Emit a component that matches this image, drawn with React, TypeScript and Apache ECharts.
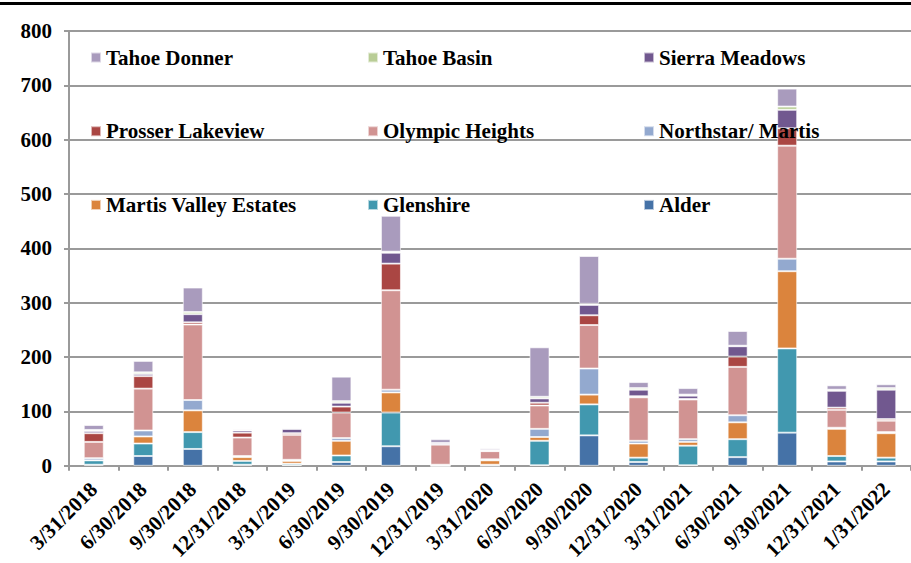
import React, { useEffect, useRef } from "react";
import * as echarts from "echarts";

const categories = [
  "3/31/2018", "6/30/2018", "9/30/2018", "12/31/2018", "3/31/2019", "6/30/2019",
  "9/30/2019", "12/31/2019", "3/31/2020", "6/30/2020", "9/30/2020", "12/31/2020",
  "3/31/2021", "6/30/2021", "9/30/2021", "12/31/2021", "1/31/2022",
];

const alder = [2, 18, 31, 2, 1, 7, 36, 0, 0, 1, 56, 7, 1, 16, 61, 8, 8];
const glenshire = [8, 23, 31, 7, 3, 12, 62, 0, 2, 45, 57, 8, 36, 33, 155, 10, 7];
const martisValley = [0, 13, 40, 7, 5, 27, 37, 0, 8, 7, 18, 26, 7, 31, 142, 50, 45];
const northstar = [4, 11, 19, 2, 2, 5, 5, 2, 2, 15, 48, 5, 5, 13, 23, 2, 2];
const olympic = [30, 77, 139, 34, 46, 47, 183, 37, 15, 43, 80, 80, 73, 89, 208, 33, 21];
const prosser = [16, 23, 4, 9, 3, 11, 49, 0, 0, 5, 18, 2, 1, 19, 32, 4, 3];
const sierra = [4, 4, 15, 4, 8, 7, 20, 3, 2, 8, 19, 12, 6, 19, 34, 31, 54];
const tahoeBasin = [2, 3, 4, 0, 0, 3, 2, 0, 0, 3, 2, 3, 2, 1, 6, 2, 3];
const tahoeDonner = [9, 21, 45, 2, 2, 45, 66, 7, 3, 91, 88, 11, 12, 27, 33, 8, 7];

const seriesDefs = [
  { name: "Alder", data: alder, color: "#4572A7" },
  { name: "Glenshire", data: glenshire, color: "#4198AF" },
  { name: "Martis Valley Estates", data: martisValley, color: "#DB843D" },
  { name: "Northstar/ Martis", data: northstar, color: "#93A9CF" },
  { name: "Olympic Heights", data: olympic, color: "#D19392" },
  { name: "Prosser Lakeview", data: prosser, color: "#AA4643" },
  { name: "Sierra Meadows", data: sierra, color: "#71588F" },
  { name: "Tahoe Basin", data: tahoeBasin, color: "#B9CD96" },
  { name: "Tahoe Donner", data: tahoeDonner, color: "#A99BBD" },
];

const legendColumns = [
  ["Tahoe Donner", "Prosser Lakeview", "Martis Valley Estates"],
  ["Tahoe Basin", "Olympic Heights", "Glenshire"],
  ["Sierra Meadows", "Northstar/ Martis", "Alder"],
];

const yTicks = [0, 100, 200, 300, 400, 500, 600, 700, 800];

const FONT = "'Liberation Serif', 'Times New Roman', serif";

export default function App() {
  const ref = useRef<HTMLDivElement>(null);
  useEffect(() => {
    if (!ref.current) return;
    const chart = echarts.init(ref.current, null, { renderer: "svg" });
    const legendLefts = [90, 367, 643];
    chart.setOption({
      animation: false,
      backgroundColor: "#fff",
      grid: { left: 69, top: 31, width: 850, height: 436, containLabel: false },
      legend: legendColumns.map((col, i) => ({
        data: col,
        orient: "vertical",
        left: legendLefts[i],
        top: 47,
        itemWidth: 10,
        itemHeight: 10,
        itemGap: 52.7,
        icon: "rect",
        padding: 0,
        selectedMode: false,
        textStyle: { fontFamily: FONT, fontWeight: "bold", fontSize: 21, color: "#000" },
      })),
      xAxis: {
        type: "category",
        data: categories,
        axisLine: { lineStyle: { color: "#9a9a9a", width: 2 } },
        axisTick: { show: true, length: 5, interval: 0, lineStyle: { color: "#9a9a9a", width: 2 } },
        axisLabel: {
          interval: 0,
          rotate: 45,
          margin: 20,
          fontFamily: FONT,
          fontWeight: "bold",
          fontSize: 21,
          color: "#000",
        },
      },
      yAxis: {
        type: "value",
        min: yTicks[0],
        max: yTicks[yTicks.length - 1],
        interval: 100,
        axisLine: { show: true, lineStyle: { color: "#9a9a9a", width: 2 } },
        axisTick: { show: true, length: 5, lineStyle: { color: "#9a9a9a", width: 2 } },
        splitLine: { show: true, lineStyle: { color: "#9a9a9a", width: 2 } },
        axisLabel: {
          margin: 17,
          fontFamily: FONT,
          fontWeight: "bold",
          fontSize: 21,
          color: "#000",
        },
      },
      graphic: [
        { type: "rect", shape: { x: 0, y: 2, width: 911, height: 3 }, style: { fill: "#000" } },
      ],
      series: seriesDefs.map((s) => ({
        name: s.name,
        type: "bar",
        stack: "total",
        barWidth: 20,
        data: s.data,
        itemStyle: { color: s.color, borderColor: "rgba(255,255,255,0.6)", borderWidth: 1 },
      })),
    });
    return () => chart.dispose();
  }, []);
  return (
    <div
      ref={ref}
      style={{ position: "fixed", left: 0, top: 0, width: 911, height: 563, overflow: "hidden" }}
    />
  );
}
